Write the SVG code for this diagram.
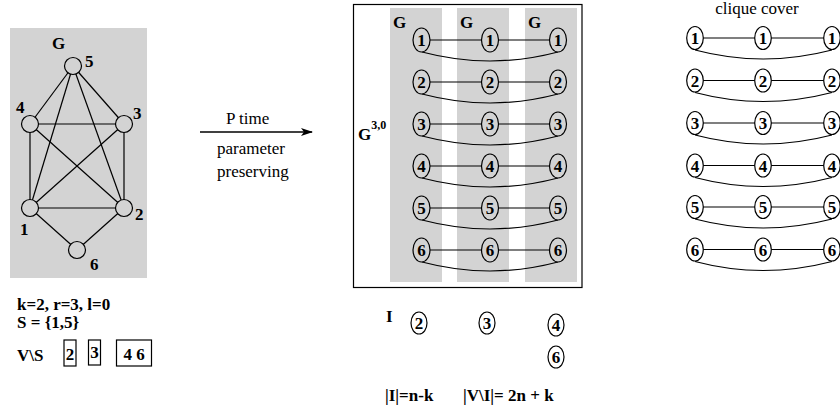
<svg xmlns="http://www.w3.org/2000/svg" width="840" height="410" viewBox="0 0 840 410">
<style>
text{font-family:"Liberation Serif","Times New Roman",serif;fill:#000;font-size:17px}
.b{font-weight:bold}
.n{font-weight:bold;font-size:17px;text-anchor:middle}
.e{fill:none;stroke:#000;stroke-width:1.2}
.c{fill:#fff;stroke:#000;stroke-width:1.2}
.cg{fill:#d3d3d3;stroke:#000;stroke-width:1.2}
.bg{fill:#d3d3d3}
</style>
<defs>
<marker id="ah" markerWidth="12" markerHeight="8" refX="11" refY="4" orient="auto" markerUnits="userSpaceOnUse">
<path d="M0,0 L12,4 L0,8 L3,4 Z" fill="#000"/>
</marker>
</defs>

<!-- Left graph G -->
<g id="graphG">
<rect class="bg" x="10" y="28" width="137" height="250"/>
<text class="b" x="52" y="49">G</text>
<g id="edgesG">
<line class="e" x1="73" y1="66" x2="30" y2="124"/>
<line class="e" x1="73" y1="66" x2="124" y2="124"/>
<line class="e" x1="73" y1="66" x2="30" y2="208"/>
<line class="e" x1="73" y1="66" x2="124" y2="208"/>
<line class="e" x1="30" y1="124" x2="124" y2="124"/>
<line class="e" x1="30" y1="124" x2="30" y2="208"/>
<line class="e" x1="30" y1="124" x2="124" y2="208"/>
<line class="e" x1="124" y1="124" x2="30" y2="208"/>
<line class="e" x1="124" y1="124" x2="124" y2="208"/>
<line class="e" x1="30" y1="208" x2="124" y2="208"/>
<line class="e" x1="30" y1="208" x2="77" y2="250"/>
<line class="e" x1="124" y1="208" x2="77" y2="250"/>
</g>
<g id="gn5"><circle class="cg" cx="73" cy="66" r="8.5"/><text class="b" x="85" y="67">5</text></g>
<g id="gn4"><circle class="cg" cx="30" cy="124" r="8.5"/><text class="b" x="16" y="113">4</text></g>
<g id="gn3"><circle class="cg" cx="124" cy="124" r="8.5"/><text class="b" x="133" y="119">3</text></g>
<g id="gn1"><circle class="cg" cx="30" cy="208" r="8.5"/><text class="b" x="20" y="235">1</text></g>
<g id="gn2"><circle class="cg" cx="124" cy="208" r="8.5"/><text class="b" x="135" y="220">2</text></g>
<g id="gn6"><circle class="cg" cx="77" cy="250" r="8.5"/><text class="b" x="90" y="270">6</text></g>
</g>

<g id="params">
<text class="b" x="17" y="310">k=2, r=3, l=0</text>
<text class="b" x="17" y="328">S = {1,5}</text>
<text class="b" x="17" y="361">V\S</text>
<rect class="c" x="64" y="340" width="12" height="26"/>
<text class="n" x="70" y="360">2</text>
<rect class="c" x="88.5" y="340" width="12" height="25"/>
<text class="n" x="94.5" y="358">3</text>
<rect class="c" x="116.5" y="340" width="35" height="26"/>
<text class="n" x="134" y="360">4 6</text>
</g>

<!-- Arrow -->
<g id="arrow">
<line x1="200" y1="132" x2="312" y2="132" stroke="#000" stroke-width="1.5" marker-end="url(#ah)"/>
<text x="226" y="124">P time</text>
<text x="217" y="154">parameter</text>
<text x="217" y="177">preserving</text>
</g>

<!-- Middle box G^{3,0} -->
<g id="g30">
<rect x="353.5" y="4.5" width="228.5" height="283" fill="#fff" stroke="#000" stroke-width="1.2"/>
<rect class="bg" x="390" y="8" width="52" height="274"/>
<rect class="bg" x="457" y="8" width="52" height="274"/>
<rect class="bg" x="525" y="8" width="52" height="274"/>
<text class="b" x="393" y="28">G</text>
<text class="b" x="460" y="28">G</text>
<text class="b" x="528" y="28">G</text>
<text class="b" x="358" y="140">G<tspan dy="-11" font-size="12">3,0</tspan></text>
</g>

<g id="connectorsMid">
<path class="e" d="M430,40 H481 M499,40 H549 M422,52 Q490,70 558,52"/>
<path class="e" d="M430,82 H481 M499,82 H549 M422,94 Q490,112 558,94"/>
<path class="e" d="M430,124 H481 M499,124 H549 M422,136 Q490,154 558,136"/>
<path class="e" d="M430,166 H481 M499,166 H549 M422,178 Q490,196 558,178"/>
<path class="e" d="M430,208 H481 M499,208 H549 M422,220 Q490,238 558,220"/>
<path class="e" d="M430,250 H481 M499,250 H549 M422,262 Q490,280 558,262"/>
</g>

<g id="midNodes">
<g id="m1"><ellipse class="cg" cx="421.5" cy="40" rx="8.5" ry="12"/><text class="n" x="421.5" y="46">1</text>
<ellipse class="cg" cx="490" cy="40" rx="8.5" ry="12"/><text class="n" x="490" y="46">1</text>
<ellipse class="cg" cx="558" cy="40" rx="8.5" ry="12"/><text class="n" x="558" y="46">1</text></g>
<g id="m2"><ellipse class="cg" cx="421.5" cy="82" rx="8.5" ry="12"/><text class="n" x="421.5" y="88">2</text>
<ellipse class="cg" cx="490" cy="82" rx="8.5" ry="12"/><text class="n" x="490" y="88">2</text>
<ellipse class="cg" cx="558" cy="82" rx="8.5" ry="12"/><text class="n" x="558" y="88">2</text></g>
<g id="m3"><ellipse class="cg" cx="421.5" cy="124" rx="8.5" ry="12"/><text class="n" x="421.5" y="130">3</text>
<ellipse class="cg" cx="490" cy="124" rx="8.5" ry="12"/><text class="n" x="490" y="130">3</text>
<ellipse class="cg" cx="558" cy="124" rx="8.5" ry="12"/><text class="n" x="558" y="130">3</text></g>
<g id="m4"><ellipse class="cg" cx="421.5" cy="166" rx="8.5" ry="12"/><text class="n" x="421.5" y="172">4</text>
<ellipse class="cg" cx="490" cy="166" rx="8.5" ry="12"/><text class="n" x="490" y="172">4</text>
<ellipse class="cg" cx="558" cy="166" rx="8.5" ry="12"/><text class="n" x="558" y="172">4</text></g>
<g id="m5"><ellipse class="cg" cx="421.5" cy="208" rx="8.5" ry="12"/><text class="n" x="421.5" y="214">5</text>
<ellipse class="cg" cx="490" cy="208" rx="8.5" ry="12"/><text class="n" x="490" y="214">5</text>
<ellipse class="cg" cx="558" cy="208" rx="8.5" ry="12"/><text class="n" x="558" y="214">5</text></g>
<g id="m6"><ellipse class="cg" cx="421.5" cy="250" rx="8.5" ry="12"/><text class="n" x="421.5" y="256">6</text>
<ellipse class="cg" cx="490" cy="250" rx="8.5" ry="12"/><text class="n" x="490" y="256">6</text>
<ellipse class="cg" cx="558" cy="250" rx="8.5" ry="12"/><text class="n" x="558" y="256">6</text></g>
</g>

<!-- Independent set I -->
<g id="setI">
<text class="b" x="386" y="322">I</text>
<ellipse class="c" cx="419" cy="323" rx="8" ry="11"/><text class="n" x="419" y="329">2</text>
<ellipse class="c" cx="487" cy="323" rx="8" ry="11"/><text class="n" x="487" y="329">3</text>
<ellipse class="c" cx="556" cy="325" rx="8" ry="11"/><text class="n" x="556" y="331">4</text>
<ellipse class="c" cx="556" cy="357" rx="8" ry="11"/><text class="n" x="556" y="363">6</text>
<text class="b" x="385" y="401">|I|=n-k</text>
<text class="b" x="463" y="401">|V\I|= 2n + k</text>
</g>

<!-- Clique cover -->
<g id="cliqueCover">
<text x="757" y="14" text-anchor="middle">clique cover</text>
<g id="ccEdges">
<path class="e" d="M703,38 H755 M771,38 H824 M695,50 Q763,68 832,50"/>
<path class="e" d="M703,80.5 H755 M771,80.5 H824 M695,92.5 Q763,110.5 832,92.5"/>
<path class="e" d="M703,123 H755 M771,123 H824 M695,135 Q763,153 832,135"/>
<path class="e" d="M703,165.5 H755 M771,165.5 H824 M695,177.5 Q763,195.5 832,177.5"/>
<path class="e" d="M703,207 H755 M771,207 H824 M695,219 Q763,237 832,219"/>
<path class="e" d="M703,249.5 H755 M771,249.5 H824 M695,261.5 Q763,279.5 832,261.5"/>
</g>
<g id="cc1"><ellipse class="c" cx="695" cy="38" rx="8.3" ry="11.5"/><text class="n" x="695" y="44">1</text>
<ellipse class="c" cx="763" cy="38" rx="8.3" ry="11.5"/><text class="n" x="763" y="44">1</text>
<ellipse class="c" cx="832" cy="38" rx="8.3" ry="11.5"/><text class="n" x="832" y="44">1</text></g>
<g id="cc2"><ellipse class="c" cx="695" cy="80.5" rx="8.3" ry="11.5"/><text class="n" x="695" y="86.5">2</text>
<ellipse class="c" cx="763" cy="80.5" rx="8.3" ry="11.5"/><text class="n" x="763" y="86.5">2</text>
<ellipse class="c" cx="832" cy="80.5" rx="8.3" ry="11.5"/><text class="n" x="832" y="86.5">2</text></g>
<g id="cc3"><ellipse class="c" cx="695" cy="123" rx="8.3" ry="11.5"/><text class="n" x="695" y="129">3</text>
<ellipse class="c" cx="763" cy="123" rx="8.3" ry="11.5"/><text class="n" x="763" y="129">3</text>
<ellipse class="c" cx="832" cy="123" rx="8.3" ry="11.5"/><text class="n" x="832" y="129">3</text></g>
<g id="cc4"><ellipse class="c" cx="695" cy="165.5" rx="8.3" ry="11.5"/><text class="n" x="695" y="171.5">4</text>
<ellipse class="c" cx="763" cy="165.5" rx="8.3" ry="11.5"/><text class="n" x="763" y="171.5">4</text>
<ellipse class="c" cx="832" cy="165.5" rx="8.3" ry="11.5"/><text class="n" x="832" y="171.5">4</text></g>
<g id="cc5"><ellipse class="c" cx="695" cy="207" rx="8.3" ry="11.5"/><text class="n" x="695" y="213">5</text>
<ellipse class="c" cx="763" cy="207" rx="8.3" ry="11.5"/><text class="n" x="763" y="213">5</text>
<ellipse class="c" cx="832" cy="207" rx="8.3" ry="11.5"/><text class="n" x="832" y="213">5</text></g>
<g id="cc6"><ellipse class="c" cx="695" cy="249.5" rx="8.3" ry="11.5"/><text class="n" x="695" y="255.5">6</text>
<ellipse class="c" cx="763" cy="249.5" rx="8.3" ry="11.5"/><text class="n" x="763" y="255.5">6</text>
<ellipse class="c" cx="832" cy="249.5" rx="8.3" ry="11.5"/><text class="n" x="832" y="255.5">6</text></g>
</g>
</svg>
